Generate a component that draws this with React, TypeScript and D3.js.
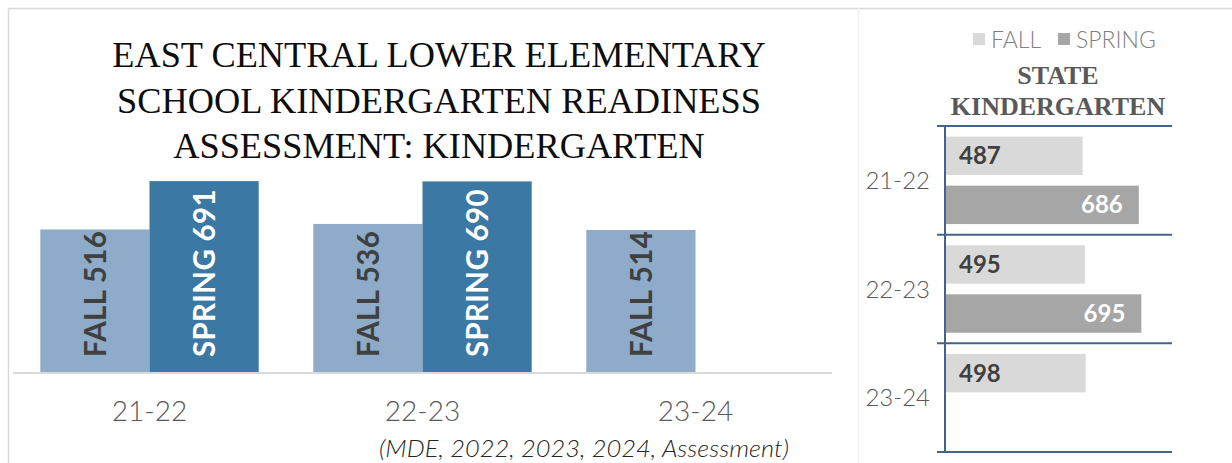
import React from "react";
import * as d3 from "d3";

const years = ["21-22", "22-23", "23-24"];
const seriesNames = ["FALL", "SPRING"];
const schoolFall = [516, 536, 514];
const schoolSpring: (number | null)[] = [691, 690, null];
const stateFall = [487, 495, 498];
const stateSpring: (number | null)[] = [686, 695, null];
const titleLines = [
  "EAST CENTRAL LOWER ELEMENTARY",
  "SCHOOL KINDERGARTEN READINESS",
  "ASSESSMENT: KINDERGARTEN",
];
const stateTitleLines = ["STATE", "KINDERGARTEN"];
const citation = "(MDE, 2022, 2023, 2024, Assessment)";

const W = 1232;
const H = 463;
const SANS = "Lato, 'Open Sans', sans-serif";
const SERIF = "'Liberation Serif', 'DejaVu Serif', serif";

export default function App() {
  // left chart scales
  const x0 = d3.scaleBand<string>().domain(years).range([13, 832]).paddingInner(0.2).paddingOuter(0.1);
  const x1 = d3.scaleBand<string>().domain(seriesNames).range([0, x0.bandwidth()]).padding(0);
  const y = d3.scaleLinear().domain([0, 800]).range([372, 151]);

  const schoolBars: { year: string; s: string; v: number }[] = [];
  years.forEach((yr, i) => {
    schoolBars.push({ year: yr, s: "FALL", v: schoolFall[i] });
    if (schoolSpring[i] != null) schoolBars.push({ year: yr, s: "SPRING", v: schoolSpring[i] as number });
  });

  // right chart scales
  const ry0 = d3.scaleBand<string>().domain(years).range([126, 452]).padding(0);
  const ry1 = d3.scaleBand<string>().domain(seriesNames).range([0, ry0.bandwidth()]).paddingInner(0.216).paddingOuter(0.216);
  const rx = d3.scaleLinear().domain([0, 800]).range([945, 1171]);

  const stateBars: { year: string; s: string; v: number }[] = [];
  years.forEach((yr, i) => {
    stateBars.push({ year: yr, s: "FALL", v: stateFall[i] });
    if (stateSpring[i] != null) stateBars.push({ year: yr, s: "SPRING", v: stateSpring[i] as number });
  });

  const leftColor = d3.scaleOrdinal<string, string>().domain(seriesNames).range(["#8eacc9", "#3b78a4"]);
  const leftText = d3.scaleOrdinal<string, string>().domain(seriesNames).range(["#404040", "#ffffff"]);
  const rightColor = d3.scaleOrdinal<string, string>().domain(seriesNames).range(["#d9d9d9", "#a6a6a6"]);
  const rightText = d3.scaleOrdinal<string, string>().domain(seriesNames).range(["#404040", "#ffffff"]);

  const boundaries = years.map((yr) => ry0(yr) as number).concat([ry0.range()[1]]);

  return (
    <svg width={W} height={H} style={{ position: "absolute", left: 0, top: 0, display: "block", background: "#fff" }}>
      {/* frame lines */}
      <line x1={8} x2={W} y1={8.5} y2={8.5} stroke="#d9d9d9" strokeWidth={1.5} />
      <line x1={8.5} x2={8.5} y1={8} y2={H} stroke="#d9d9d9" strokeWidth={1.5} />
      <line x1={858.5} x2={858.5} y1={8} y2={H} stroke="#efefef" strokeWidth={1.5} />

      {/* left title */}
      {titleLines.map((t, i) => (
        <text key={t} x={439} y={67 + i * 45.5} textAnchor="middle" fontFamily={SERIF} fontSize={36.3} fill="#0d0d0d">
          {t}
        </text>
      ))}

      {/* left bars */}
      {schoolBars.map((b) => {
        const bx = (x0(b.year) as number) + (x1(b.s) as number);
        const cx = bx + x1.bandwidth() / 2;
        return (
          <g key={b.year + b.s}>
            <rect x={bx} y={y(b.v)} width={x1.bandwidth()} height={y(0) - y(b.v)} fill={leftColor(b.s)} />
            <text
              transform={`translate(${cx},${y(0) - 15}) rotate(-90)`}
              dy="0.36em"
              textAnchor="start"
              fontFamily={SANS}
              fontWeight={700}
              fontSize={29.5}
              letterSpacing={0.3}
              fill={leftText(b.s)}
            >
              {`${b.s} ${b.v}`}
            </text>
          </g>
        );
      })}

      {/* left baseline */}
      <line x1={13} x2={832} y1={y(0) + 1} y2={y(0) + 1} stroke="#d9d9d9" strokeWidth={2} />

      {/* left category labels */}
      {years.map((yr) => (
        <text key={yr} x={(x0(yr) as number) + x0.bandwidth() / 2} y={421} textAnchor="middle" fontFamily={SANS} fontWeight={300} fontSize={28} fill="#595959">
          {yr}
        </text>
      ))}

      {/* citation */}
      <text x={379} y={457} fontFamily={SANS} fontStyle="italic" fontWeight={300} fontSize={24} textLength={410} lengthAdjust="spacingAndGlyphs" fill="#262626">
        {citation}
      </text>

      {/* right legend */}
      {seriesNames.map((s, i) => {
        const lx = i === 0 ? 973 : 1058;
        return (
          <g key={s}>
            <rect x={lx} y={33} width={12} height={12} fill={rightColor(s)} />
            <text x={lx + 18} y={47.5} fontFamily={SANS} fontWeight={300} fontSize={23} fill="#808080">
              {s}
            </text>
          </g>
        );
      })}

      {/* right title */}
      {stateTitleLines.map((t, i) => (
        <text key={t} x={1058} y={84 + i * 31} textAnchor="middle" fontFamily={SERIF} fontWeight={700} fontSize={26} fill="#595959">
          {t}
        </text>
      ))}

      {/* right bars */}
      {stateBars.map((b) => {
        const by = (ry0(b.year) as number) + (ry1(b.s) as number);
        const cy = by + ry1.bandwidth() / 2;
        const isFall = b.s === "FALL";
        return (
          <g key={b.year + b.s}>
            <rect x={rx(0)} y={by} width={rx(b.v) - rx(0)} height={ry1.bandwidth()} fill={rightColor(b.s)} />
            <text
              x={isFall ? rx(0) + 14 : rx(b.v) - 16}
              y={cy}
              dy="0.36em"
              textAnchor={isFall ? "start" : "end"}
              fontFamily={SANS}
              fontWeight={700}
              fontSize={24}
              fill={rightText(b.s)}
            >
              {b.v}
            </text>
          </g>
        );
      })}

      {/* right axis + boundary lines */}
      {boundaries.map((by, i) => (
        <line key={i} x1={937} x2={1172} y1={by} y2={by} stroke="#44638a" strokeWidth={2} />
      ))}
      <line x1={945} x2={945} y1={126} y2={452} stroke="#44638a" strokeWidth={2} />

      {/* right category labels */}
      {years.map((yr) => (
        <text key={yr} x={930} y={(ry0(yr) as number) + ry0.bandwidth() / 2} dy="0.36em" textAnchor="end" fontFamily={SANS} fontWeight={300} fontSize={24} fill="#595959">
          {yr}
        </text>
      ))}
    </svg>
  );
}
